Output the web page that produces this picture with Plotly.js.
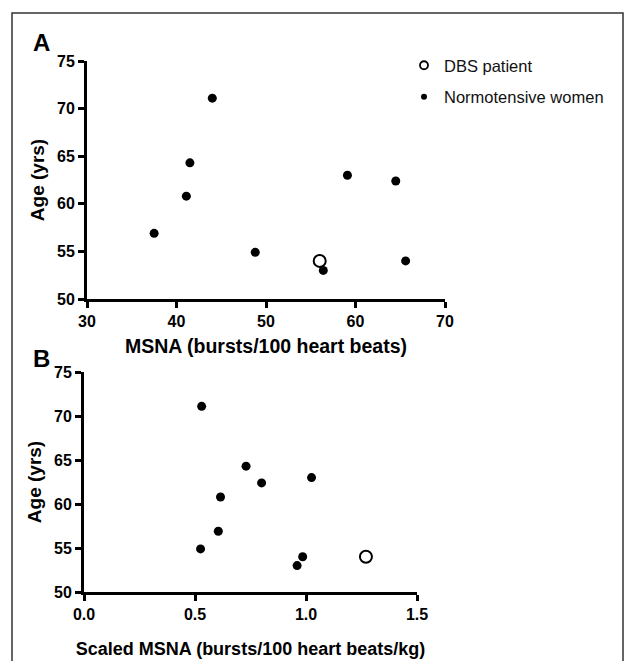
<!DOCTYPE html>
<html>
<head>
<meta charset="utf-8">
<script src="https://cdn.plot.ly/plotly-3.0.1.min.js"></script>
<style>html,body{margin:0;padding:0;background:#fff;}
.xtick text, .ytick text, .x2tick text, .y2tick text {font-weight: 700 !important;}
</style>
</head>
<body>
<div id="chart" style="width:628px;height:661px;"></div>
<script>
// Panel A data: MSNA (bursts/100 heart beats) vs age
const msnaNormo = [44.0, 41.5, 41.1, 37.5, 48.8, 56.4, 59.1, 64.5, 65.6];
const ageNormoA = [71.1, 64.3, 60.8, 56.9, 54.9, 53.0, 63.0, 62.4, 54.0];
const msnaDBS = [56.0];
const ageDBS = [54.0];
// Panel B data: scaled MSNA (bursts/100 heart beats/kg) vs age
const scaledNormo = [0.53, 0.73, 0.80, 1.025, 0.615, 0.605, 0.525, 0.985, 0.96];
const ageNormoB = [71.1, 64.3, 62.4, 63.0, 60.8, 56.9, 54.9, 54.0, 53.0];
const scaledDBS = [1.27];
const ageDBSB = [54.0];

const seriesNames = ["DBS patient", "Normotensive women"];
const yTicks = [50, 55, 60, 65, 70, 75];
const yTickText = ["50", "55", "60", "65", "70", "75"];
const xTicksA = [30, 40, 50, 60, 70];
const xTickTextA = ["30", "40", "50", "60", "70"];
const xTicksB = [0, 0.5, 1.0, 1.5];
const xTickTextB = ["0.0", "0.5", "1.0", "1.5"];

const W = 628, H = 661;
const FONT = "Liberation Sans, Arial, Helvetica, sans-serif";
const px = v => v / W;
const py = v => (H - v) / H;
const bold = arr => arr.map(s => "<b>" + s + "</b>");

const filled = {color: "#000", size: 9};
const openM = {color: "#fff", size: 12, line: {color: "#000", width: 2}};

const traces = [
  {x: msnaNormo, y: ageNormoA, xaxis: "x", yaxis: "y", mode: "markers", type: "scatter",
   marker: filled, showlegend: false, name: seriesNames[1]},
  {x: msnaDBS, y: ageDBS, xaxis: "x", yaxis: "y", mode: "markers", type: "scatter",
   marker: openM, showlegend: false, name: seriesNames[0]},
  {x: scaledNormo, y: ageNormoB, xaxis: "x2", yaxis: "y2", mode: "markers", type: "scatter",
   marker: filled, showlegend: false, name: seriesNames[1]},
  {x: scaledDBS, y: ageDBSB, xaxis: "x2", yaxis: "y2", mode: "markers", type: "scatter",
   marker: openM, showlegend: false, name: seriesNames[0]},
  // legend entries
  {x: [null], y: [null], xaxis: "x", yaxis: "y", mode: "markers", type: "scatter",
   name: seriesNames[0], legendgroup: "g1",
   marker: {color: "#fff", size: 8, line: {color: "#000", width: 1.8}}},
  {x: [null], y: [null], xaxis: "x", yaxis: "y", mode: "markers", type: "scatter",
   name: seriesNames[1], legendgroup: "g2",
   marker: {color: "#000", size: 6}}
];

const axisCommon = {
  showline: true, linecolor: "#000", linewidth: 3,
  ticks: "outside", ticklen: 6, tickwidth: 3, tickcolor: "#000",
  showgrid: false, zeroline: false, fixedrange: true, tickmode: "array",
  tickfont: {family: FONT, size: 16, color: "#000", weight: 700},
  title: {font: {family: FONT, size: 19, color: "#000", weight: "bold"}}
};

function ax(extra) {
  const o = JSON.parse(JSON.stringify(axisCommon));
  for (const k in extra) {
    if (k === "title") o.title = Object.assign(o.title, extra.title);
    else o[k] = extra[k];
  }
  return o;
}

const layout = {
  width: W, height: H,
  margin: {l: 0, r: 0, t: 0, b: 0},
  paper_bgcolor: "#fff", plot_bgcolor: "#fff",
  showlegend: true,
  legend: {
    x: px(404), y: py(48), xanchor: "left", yanchor: "top",
    font: {family: FONT, size: 16.5, color: "#111"},
    bgcolor: "rgba(0,0,0,0)", traceorder: "grouped", tracegroupgap: 7
  },
  xaxis: ax({domain: [px(87), px(445)], anchor: "y", range: [30, 70],
    tickvals: xTicksA, ticktext: bold(xTickTextA),
    title: {text: "MSNA (bursts/100 heart beats)", standoff: 11,
            font: {family: FONT, size: 19.5, color: "#000", weight: "bold"}}}),
  yaxis: ax({domain: [py(299), py(61)], anchor: "x", range: [50, 75],
    tickvals: yTicks, ticktext: bold(yTickText), title: {text: "Age (yrs)", standoff: 8}}),
  xaxis2: ax({domain: [px(84), px(417)], anchor: "y2", range: [0, 1.5],
    tickvals: xTicksB, ticktext: bold(xTickTextB),
    title: {text: "Scaled MSNA (bursts/100 heart beats/kg)", standoff: 21,
            font: {family: FONT, size: 18, color: "#000", weight: "bold"}}}),
  yaxis2: ax({domain: [py(592), py(372)], anchor: "x2", range: [50, 75],
    tickvals: yTicks, ticktext: bold(yTickText), title: {text: "Age (yrs)", standoff: 8}}),
  annotations: [
    {text: "A", xref: "paper", yref: "paper", x: px(41), y: py(43), showarrow: false,
     xanchor: "center", yanchor: "middle", font: {family: FONT, size: 24, color: "#000", weight: "bold"}},
    {text: "B", xref: "paper", yref: "paper", x: px(41), y: py(358), showarrow: false,
     xanchor: "center", yanchor: "middle", font: {family: FONT, size: 24, color: "#000", weight: "bold"}}
  ],
  shapes: [
    {type: "rect", xref: "paper", yref: "paper", x0: px(12), x1: px(623), y0: -0.1, y1: py(13),
     line: {color: "#333", width: 1.5}, fillcolor: "rgba(0,0,0,0)", layer: "below"}
  ]
};

Plotly.newPlot("chart", traces, layout, {staticPlot: true, displayModeBar: false});
</script>
</body>
</html>
